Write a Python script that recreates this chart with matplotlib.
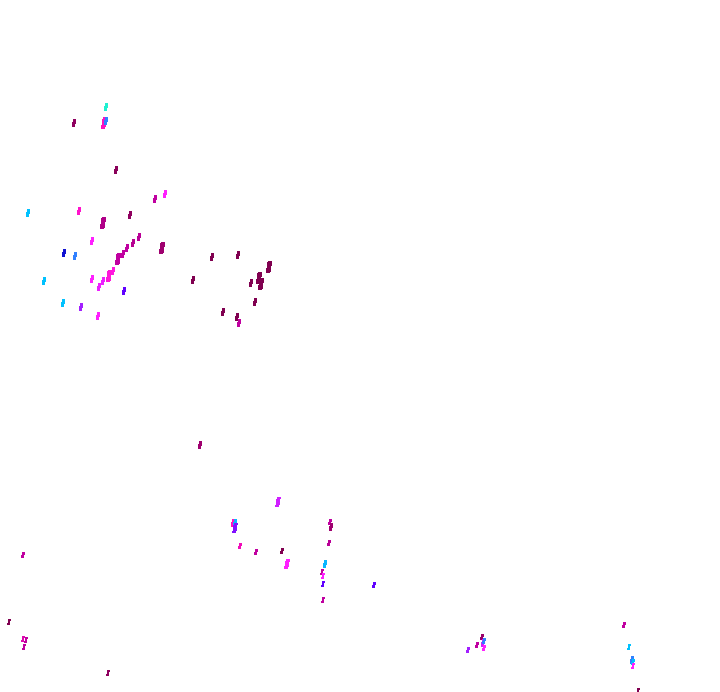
import numpy as np
import matplotlib
matplotlib.use('Agg')
import matplotlib.pyplot as plt
from matplotlib.colors import LinearSegmentedColormap
from matplotlib.path import Path

# point positions (pixel-like units), a colour value 0..1 and a weight
x = [106, 74, 104, 106, 116, 155, 165, 28, 79, 130, 103,
     92, 64, 75, 139, 133, 127, 123, 118, 162, 113, 109, 103, 99, 92, 44, 124, 63, 81, 98,
     212, 238, 193, 269, 259, 261, 251, 255, 223, 237, 239,
     200, 278, 233, 235, 235, 240, 256, 282, 287, 330, 331, 329, 325, 322, 323, 323, 323, 374,
     482, 477, 483, 484, 484, 468, 624, 629, 632, 633, 633, 638,
     23, 9, 23, 26, 24, 108]
y = [107, 123, 123, 121, 170, 199, 194, 213, 211, 215, 223,
     241, 253, 256, 237, 243, 248, 254, 259, 248, 271, 276, 281, 287, 279, 281, 291, 303, 307, 316,
     257, 255, 280, 267, 278, 284, 283, 302, 312, 317, 323,
     445, 502, 523, 523, 528, 546, 552, 551, 564, 522, 527, 543, 564, 572, 576, 584, 600, 585,
     637, 645, 643, 641, 648, 650, 625, 647, 660, 662, 666, 691,
     555, 622, 639, 640, 647, 673]
val = [0.0, 0.95, 0.7, 0.2, 0.97, 0.8, 0.6, 0.1, 0.68, 0.95, 0.85,
       0.6, 0.3, 0.2, 0.82, 0.83, 0.8, 0.8, 0.8, 0.9, 0.65, 0.66, 0.58, 0.58, 0.6, 0.1, 0.4, 0.1, 0.5, 0.6,
       1.0, 1.0, 1.0, 1.0, 1.0, 1.0, 1.0, 1.0, 1.0, 1.0, 0.8,
       0.9, 0.55, 0.7, 0.12, 0.45, 0.72, 0.8, 1.0, 0.6, 0.8, 0.9, 0.82, 0.12, 0.8, 0.6, 0.4, 0.8, 0.4,
       0.92, 0.8, 0.55, 0.2, 0.6, 0.5, 0.8, 0.1, 0.2, 0.1, 0.6, 1.0,
       0.8, 1.0, 0.75, 0.8, 0.8, 0.95]
weight = [1, 1, 1.4, 1, 1, 1, 1, 1, 1, 1, 1.5,
          1, 1, 1, 1, 1, 1, 1, 1.5, 1.5, 1, 1.5, 1, 1, 1, 1, 1, 1, 1, 1,
          1, 1, 1, 1.5, 1.5, 1.5, 1, 1, 1, 1, 1,
          1, 1.2, 1, 1, 1.2, 0.8, 0.8, 0.8, 1.3, 0.8, 0.9, 0.8, 1, 0.7, 0.7, 0.7, 0.7, 0.8,
          0.8, 0.8, 0.9, 0.8, 0.8, 0.8, 0.8, 0.6, 0.9, 0.8, 0.6, 0.6,
          0.8, 0.6, 0.7, 0.7, 0.7, 0.6]

cmap = LinearSegmentedColormap.from_list('marks', [
    '#20f0d0', '#00c0ff', '#3080ff', '#1010d0', '#6000ff', '#a020ff',
    '#ff20ff', '#ff10c0', '#c000a0', '#a00070', '#800050'])

# slanted stroke, a bit blocky
stroke = Path([(-0.5, -1), (0.15, -1), (0.5, 1), (-0.15, 1), (-0.5, -1)],
              [Path.MOVETO, Path.LINETO, Path.LINETO, Path.LINETO, Path.CLOSEPOLY])

fig = plt.figure(figsize=(7.2, 6.92), dpi=100)
ax = fig.add_axes([0, 0, 1, 1])
ax.scatter(x, y, c=val, cmap=cmap, vmin=0, vmax=1, marker=stroke,
           s=28*np.array(weight)**2, linewidths=0, antialiased=False)
ax.set_xlim(0, 720)
ax.set_ylim(692, 0)
ax.axis('off')

fig.savefig('out.png', dpi=100)
